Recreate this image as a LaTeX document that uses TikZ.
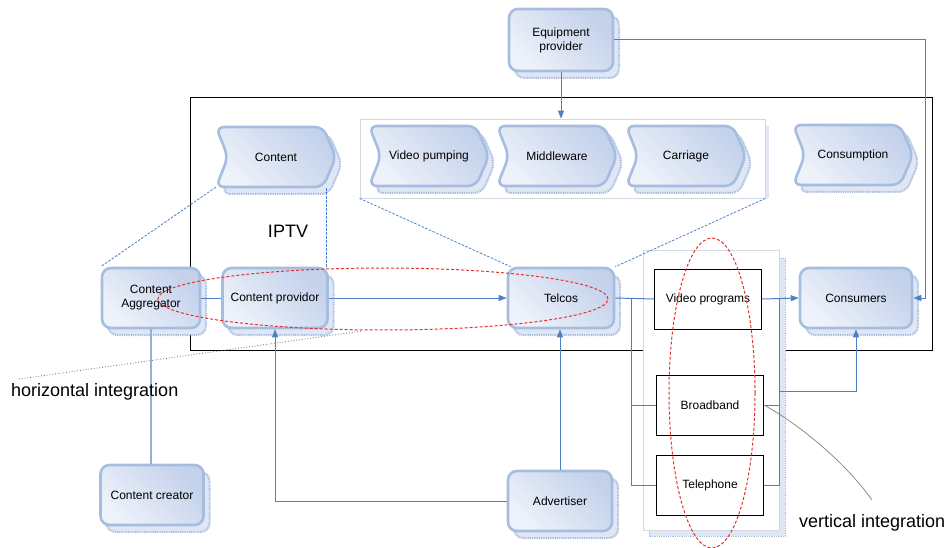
\documentclass[tikz,border=0pt]{standalone}
\usepackage{fontspec}
\setmainfont{Liberation Sans}
\usetikzlibrary{arrows.meta}
\definecolor{boxlight}{HTML}{EEF2FA}
\definecolor{boxdark}{HTML}{C3D1EB}
\definecolor{boxedge}{HTML}{A7BDE0}
\definecolor{shadowfill}{HTML}{DFE6F4}
\definecolor{shadowedge}{HTML}{A9BDE1}
\definecolor{conn}{HTML}{4F7FC4}
\definecolor{connlight}{HTML}{94B0DA}
\definecolor{grpedge}{HTML}{D3D9E3}
\definecolor{ellred}{HTML}{E8302A}
\tikzset{
  boxst/.style={draw=boxedge, line width=2.6pt, rounded corners=9pt,
    top color=boxdark, bottom color=boxlight, shading angle=-45,
    inner sep=2pt, align=center, font={\fontsize{12}{14}\selectfont}},
  shadowst/.style={fill=shadowfill, draw=shadowedge, line width=2pt,
    dash pattern=on 1pt off 0.8pt, rounded corners=9pt},
  chevst/.style={draw=boxedge, line width=2.6pt, rounded corners=8pt,
    top color=boxdark, bottom color=boxlight, shading angle=-45},
  chevtxt/.style={inner sep=0pt, minimum width=120, minimum height=60,
    font={\fontsize{12}{14}\selectfont}},
  blackbox/.style={draw=black, line width=1pt, fill=white,
    minimum width=107, minimum height=60, inner sep=1pt,
    font={\fontsize{12}{14}\selectfont}},
  grp/.style={draw=grpedge, line width=0.8pt, fill=white, inner sep=0pt},
  con/.style={draw=conn, line width=1pt},
  arr/.style={con, -{Triangle[length=8pt,width=6pt]}},
  dashcon/.style={draw=conn, line width=0.8pt, dash pattern=on 2.5pt off 1.5pt},
  redell/.style={draw=ellred, line width=1pt, dash pattern=on 3pt off 2pt},
  bigtxt/.style={font={\fontsize{18}{20}\selectfont}, inner sep=0pt}
}
\newcommand\mybox[6]{%
  \path[shadowst] ({#2-#4/2+6},{#3-#5/2+7}) rectangle ++(#4,#5);
  \node[boxst, minimum width=#4, minimum height=#5] (#1) at (#2,#3) {#6};}
\newcommand\mychev[4]{%
  \begin{scope}[shift={(#2,#3)}]
    \path[shadowst, rounded corners=8pt, shift={(6,7)}] (-60,-30) -- (47,-30) -- (60,0) -- (47,30) -- (-60,30) -- (-48,0) -- cycle;
    \path[chevst] (-60,-30) -- (47,-30) -- (60,0) -- (47,30) -- (-60,30) -- (-48,0) -- cycle;
    \node[chevtxt] (#1) at (0,0) {#4};
  \end{scope}}
\begin{document}
\begin{tikzpicture}[x=1pt,y=-1pt]
\useasboundingbox (0,0) rectangle (945,548);
% IPTV frame
\node[draw=black, line width=1pt, minimum width=742, minimum height=252, inner sep=0pt] (frame) at (561,224) {};
% service group
\path[fill=shadowfill, draw=shadowedge, line width=1pt, dash pattern=on 1pt off 0.8pt] (649,258) rectangle (785,536);
\node[grp, minimum width=136, minimum height=280] (svc) at (711,390) {};
% middle group
\path[fill=shadowfill] (765,126) rectangle (769,198);
\node[grp, minimum width=405, minimum height=79] (midgrp) at (562.5,158.5) {};
% chevrons
\mychev{content}{276}{157}{Content}
\mychev{vpump}{429}{156}{Video pumping}
\mychev{middle}{557}{156}{Middleware}
\mychev{carriage}{686}{156}{Carriage}
\mychev{consumption}{853}{155}{Consumption}
% boxes
\mybox{equip}{561}{40}{104}{62}{Equipment\\provider}
\mybox{agg}{151}{298}{98}{60}{Content\\Aggregator}
\mybox{prov}{275}{298}{105}{60}{Content providor}
\mybox{telcos}{561}{298}{106}{60}{Telcos}
\mybox{cons}{856}{298}{112}{60}{Consumers}
\mybox{creator}{152}{495}{103}{60}{Content creator}
\mybox{adv}{560}{501}{104}{60}{Advertiser}
% black boxes
\node[blackbox] (vp) at (708,299) {Video programs};
\node[blackbox] (bb) at (710,405) {Broadband};
\node[blackbox] (tel) at (710,485) {Telephone};
% IPTV label
\node[bigtxt] (iptv) at (288,231) {IPTV};
% connectors
\coordinate (eqr) at (925,40);
\draw[arr] (equip.south) -- (equip.south |- midgrp.north);
\draw[arr] (equip.east |- eqr) -- (eqr) |- (cons.east);
\draw[dashcon] (content.south west) -- (agg.north west);
\draw[dashcon] ([xshift=-2pt]prov.north east) -- ([xshift=-2pt]prov.north east |- content.south);
\draw[dashcon] (midgrp.south west) -- ([xshift=4pt]telcos.north west);
\draw[dashcon] (midgrp.south east) -- (telcos.north east);
\draw[con] (agg.east) -- (prov.west);
\draw[arr] (prov.east) -- (telcos.west);
\draw[draw=connlight, line width=1.6pt] (agg.south) -- (agg.south |- creator.north);
\draw[arr] (adv.west) -| (prov.south);
\draw[arr] (adv.north) -- (adv.north |- telcos.south);
\coordinate (bx) at (631,298);
\draw[con] (telcos.east) -- (vp.west);
\draw[con] (bx) |- (bb.west);
\draw[con] (bx) |- (tel.west);
\coordinate (rx) at (779,299);
\coordinate (ry) at (779,391);
\draw[arr] (vp.east) -- (cons.west);
\draw[con] (bb.east) -- (bb.east -| rx);
\draw[con] (tel.east) -| (rx);
\draw[arr] (ry) -| (cons.south);
% annotations
\coordinate (hs) at (19,379);
\coordinate (he) at (362,331);
\draw[gray!80!black, line width=0.8pt, dotted] (hs) -- (he);
\node[bigtxt, anchor=west] (hlab) at (11,392) {horizontal integration};
\coordinate (ve) at (872,500);
\draw[gray!90, line width=0.8pt] (bb.east) .. controls (800,425) and (845,462) .. (ve);
\node[bigtxt, anchor=west] (vlab) at (799,523) {vertical integration};
% ellipses
\draw[redell] (383,299) ellipse [x radius=225pt, y radius=31pt];
\draw[redell] (712,393) ellipse [x radius=43pt, y radius=155pt];
\end{tikzpicture}
\end{document}
